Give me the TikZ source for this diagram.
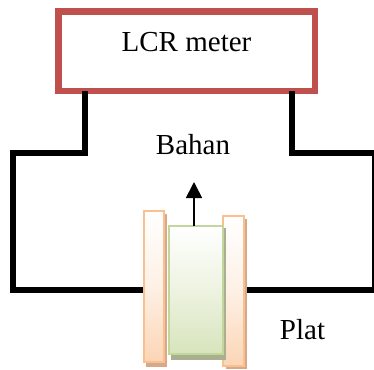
\documentclass[tikz,border=0pt]{standalone}
\usepackage{fontspec}
\setmainfont{Liberation Serif}
\usetikzlibrary{arrows.meta}
\definecolor{meterred}{HTML}{C0504D}
\definecolor{platedge}{HTML}{FAC08F}
\definecolor{platend}{HTML}{FBD5B5}
\definecolor{platshadow}{HTML}{D6A98A}
\definecolor{bahanedge}{HTML}{C3D69B}
\definecolor{bahanend}{HTML}{D7E4BC}
\definecolor{bahanshadow}{HTML}{A9B08F}
\tikzset{
  wire/.style={draw=black,line width=6pt,line join=miter},
  labeltext/.style={inner sep=0pt,anchor=base,font=\fontsize{29}{33}\selectfont,text=black},
  meterbox/.style={draw=meterred,line width=6.5pt,fill=white,inner sep=0pt,outer sep=0pt,anchor=north west},
  platebox/.style={draw=platedge,line width=2pt,top color=white,bottom color=platend,middle color=platend!35,inner sep=0pt,outer sep=0pt,anchor=north west},
  bahanbox/.style={draw=bahanedge,line width=2pt,top color=white,bottom color=bahanend,middle color=bahanend!45,inner sep=0pt,outer sep=0pt,anchor=north west}
}
\begin{document}
\begin{tikzpicture}[x=1pt,y=-1pt]
\useasboundingbox (0,0) rectangle (374,369);
% meter
\node[meterbox,minimum width=256.5pt,minimum height=79.5pt] (meter) at (58.5,11.5) {};
% wires
\coordinate (lt) at (85,91);
\coordinate (rt) at (292,91);
\coordinate (lc) at (144,290);
\coordinate (rc) at (246,290);
\draw[wire] (lt) -- (85,153) -- (13,153) -- (13,290) -- (lc);
\draw[wire] (rt) -- (292,153) -- (375,153) -- (375,290) -- (rc);
\node[labeltext] (lcr) at (186.5,51.7) {LCR meter};
\node[labeltext] (bahanlabel) at (193,154) {Bahan};
\node[labeltext] (platlabel) at (302.5,339) {Plat};
% plates
\fill[platshadow] (146,214) rectangle (167,367);
\node[platebox,minimum width=20pt,minimum height=151pt] (platea) at (144,211) {};
\fill[platshadow] (226,219) rectangle (246.7,369);
\node[platebox,minimum width=21pt,minimum height=150pt] (plateb) at (223,216) {};
% bahan
\fill[bahanshadow] (171,228) rectangle (226,360);
\node[bahanbox,minimum width=54pt,minimum height=128pt] (bahan) at (169,226) {};
\coordinate (tip) at (194,182);
\draw[line width=1.7pt,-{Triangle[length=16pt,width=16pt]}] (bahan.north -| tip) -- (tip);
\end{tikzpicture}
\end{document}
